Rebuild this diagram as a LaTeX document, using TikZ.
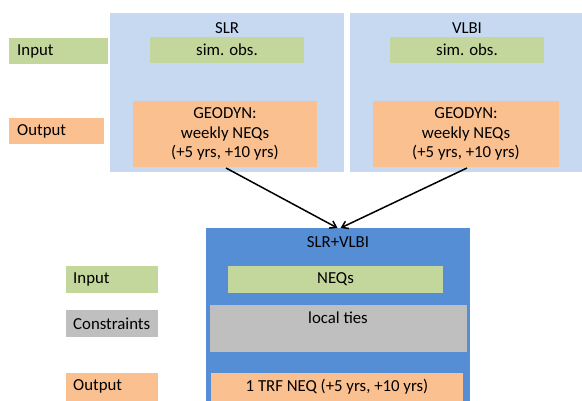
\documentclass[tikz,border=0pt]{standalone}
\usepackage{fontspec}
\setmainfont{Carlito}
\usetikzlibrary{arrows.meta}
\definecolor{lblue}{HTML}{C6D9F0}
\definecolor{dblue}{HTML}{558ED5}
\definecolor{lgreen}{HTML}{C3D69B}
\definecolor{lorange}{HTML}{FAC090}
\definecolor{lgray}{HTML}{BFBFBF}
\tikzset{
  rbox/.style={rectangle, inner sep=0pt, outer sep=0pt, anchor=north west},
  txt/.style={inner sep=0pt, font=\fontsize{16.8}{19.5}\selectfont, text=black},
  arr/.style={-{Straight Barb[length=6pt,width=8pt]}, line width=1.5pt, black}
}
\begin{document}
\begin{tikzpicture}[x=1pt,y=-1pt]
\useasboundingbox (0,0) rectangle (582,400);
% top-left labels
\node[rbox, fill=lgreen, minimum width=99, minimum height=26] (inA) at (9,38) {};
\node[txt, anchor=west] (inAt) at (17,51) {Input};
\node[rbox, fill=lorange, minimum width=95, minimum height=26] (outA) at (9,118) {};
\node[txt, anchor=west] (outAt) at (17,131) {Output};
% SLR group
\node[rbox, fill=lblue, minimum width=234, minimum height=159] (slr) at (110,13) {};
\node[txt] (slrt) at (227,28) {SLR};
\node[rbox, fill=lgreen, minimum width=154, minimum height=26] (slrin) at (150,37) {};
\node[txt] (slrint) at (227,50) {sim. obs.};
\node[rbox, fill=lorange, minimum width=184, minimum height=66] (slrout) at (133,101) {};
\node[txt, align=center] (slroutt) at (225,134) {GEODYN:\\weekly NEQs\\(+5 yrs, +10 yrs)};
% VLBI group
\node[rbox, fill=lblue, minimum width=232, minimum height=159] (vlbi) at (350,13) {};
\node[txt] (vlbit) at (467,28) {VLBI};
\node[rbox, fill=lgreen, minimum width=154, minimum height=26] (vlbiin) at (390,37) {};
\node[txt] (vlbiint) at (467,50) {sim. obs.};
\node[rbox, fill=lorange, minimum width=186, minimum height=66] (vlbiout) at (373,101) {};
\node[txt, align=center] (vlbioutt) at (466,134) {GEODYN:\\weekly NEQs\\(+5 yrs, +10 yrs)};
% combined group
\node[rbox, fill=dblue, minimum width=264, minimum height=174] (comb) at (206,228) {};
\node[txt] (combt) at (338,242) {SLR+VLBI};
\node[rbox, fill=lgreen, minimum width=215, minimum height=27] (combin) at (228,266) {};
\node[txt] (combint) at (335.5,279.5) {NEQs};
\node[rbox, fill=lgray, minimum width=257, minimum height=47] (combc) at (210,305) {};
\node[txt] (combct) at (338,318) {local ties};
\node[rbox, fill=lorange, minimum width=252, minimum height=30] (combout) at (211,373) {};
\node[txt] (comboutt) at (337,386.5) {1 TRF NEQ (+5 yrs, +10 yrs)};
% bottom-left labels
\node[rbox, fill=lgreen, minimum width=92, minimum height=27] (inB) at (66,266) {};
\node[txt, anchor=west] (inBt) at (73,279.5) {Input};
\node[rbox, fill=lgray, minimum width=92, minimum height=27] (conB) at (66,310) {};
\node[txt, anchor=west] (conBt) at (73,323.5) {Constraints};
\node[rbox, fill=lorange, minimum width=92, minimum height=30] (outB) at (66,373) {};
\node[txt, anchor=west] (outBt) at (73,386.5) {Output};
% arrows
\draw[arr] ([xshift=1pt,yshift=-1pt]slrout.south) -- ([xshift=-0.5pt]comb.north);
\draw[arr] ([xshift=1pt,yshift=-1pt]vlbiout.south) -- ([xshift=2.5pt]comb.north);
\end{tikzpicture}
\end{document}
